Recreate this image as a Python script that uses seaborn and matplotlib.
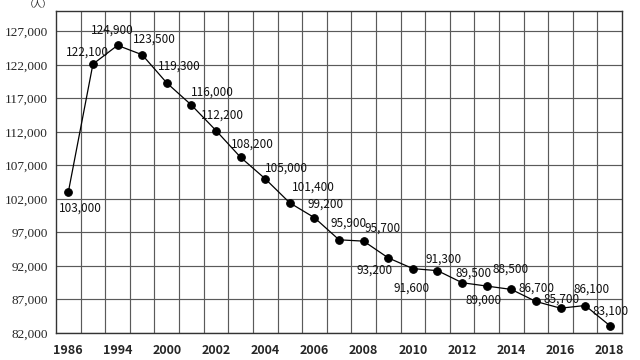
import numpy as np
import pandas as pd
import matplotlib
matplotlib.use('Agg')
import matplotlib.pyplot as plt
import seaborn as sns

# x categories (only every other one is labelled on the axis)
years = ['1986', '1990', '1994', '1998', '2000', '2001', '2002', '2003', '2004',
         '2005', '2006', '2007', '2008', '2009', '2010', '2011', '2012', '2013',
         '2014', '2015', '2016', '2017', '2018']
values = [103000, 122100, 124900, 123500, 119300, 116000, 112200, 108200, 105000,
          101400, 99200, 95900, 95700, 93200, 91600, 91300, 89500, 89000,
          88500, 86700, 85700, 86100, 83100]
y_ticks = [82000, 87000, 92000, 97000, 102000, 107000, 112000, 117000, 122000, 127000]

# label offsets in pixels (dx, dy) for each value label
label_offsets = [(12, -16), (-5, 12), (-5, 15), (12, 16), (13, 17), (21, 13),
                 (6, 15), (12, 13), (21, 11), (24, 16), (11, 14), (10, 17),
                 (19, 13), (-14, -12), (-1, -20), (6, 12), (11, 10), (-3, -14),
                 (-1, 20), (1, 13), (1, 9), (6, 16), (1, 14)]

sns.set_style('white')

df = pd.DataFrame({'pos': np.arange(len(years)), 'value': values})

fig = plt.figure(figsize=(6.4, 3.6), dpi=100)
ax = fig.add_axes([0.0875, 0.075, 0.8845, 0.894])

sns.lineplot(data=df, x='pos', y='value', ax=ax, color='black', linewidth=0.9,
             marker='o', markersize=5.5, markeredgecolor='black', markerfacecolor='black')

# value labels
for (x, v), (dx, dy) in zip(zip(df['pos'], df['value']), label_offsets):
    ax.annotate(f'{v:,}', (x, v), xytext=(dx, dy), textcoords='offset pixels',
                ha='center', va='center', fontsize=8.5, color='#111111',
                family=['Noto Sans CJK JP', 'DejaVu Sans'])

ax.set_xlim(-0.5, len(years) - 0.5)
ax.set_ylim(82000, 130000)

ax.set_xticks(np.arange(0, len(years), 2))
ax.set_xticklabels(years[::2], fontsize=9, fontweight='bold',
                   family=['Noto Sans CJK JP', 'DejaVu Sans'])
ax.set_xticks(np.arange(0.5, len(years) - 0.5, 1), minor=True)
ax.set_yticks(y_ticks)
ax.set_yticklabels([f'{t:,}' for t in y_ticks], fontsize=9.5, family='Liberation Serif')
ax.tick_params(axis='both', which='both', length=0, pad=6)
ax.tick_params(axis='x', pad=8)

ax.grid(True, which='minor', axis='x', color='#5a5a5a', linewidth=0.85)
ax.grid(True, which='major', axis='y', color='#5a5a5a', linewidth=0.85)
ax.grid(False, which='major', axis='x')
ax.set_axisbelow(True)
ax.set_xlabel('')
ax.set_ylabel('')
for s in ax.spines.values():
    s.set_color('#333333')
    s.set_linewidth(1.0)

fig.text(0.06, 0.999, '（人）', ha='center', va='top', fontsize=6.5,
         family=['Noto Sans CJK JP', 'DejaVu Sans'])

plt.savefig('out.png', dpi=100)
plt.close()
